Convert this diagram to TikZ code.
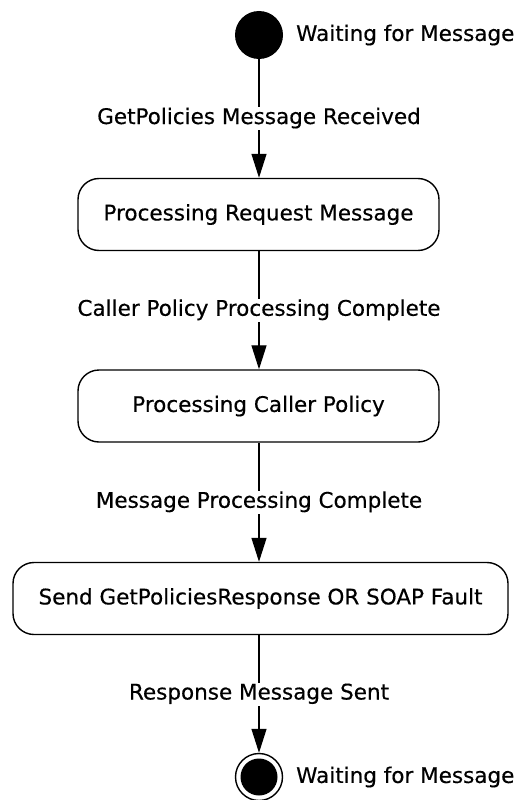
\documentclass[tikz,border=0pt]{standalone}
\usepackage{fontspec}
\setmainfont{DejaVu Sans}[FakeBold=0.4]
\usetikzlibrary{arrows.meta}
\begin{document}
\begin{tikzpicture}[x=1bp,y=-1bp,
  every node/.style={font=\fontsize{21.5bp}{25bp}\selectfont},
  statebox/.style={draw,line width=1.4bp,rounded corners=21bp,minimum height=72bp,inner sep=0pt},
  trans/.style={line width=1.3bp,-{Triangle[width=15bp,length=24bp]}},
  tlabel/.style={fill=white,inner sep=2bp,text height=15bp,text depth=4bp}]
\useasboundingbox (0,0) rectangle (515,800);
\node[circle,fill=black,minimum size=48bp,inner sep=0pt] (start) at (259,35) {};
\node[anchor=west,inner sep=0pt] (startlbl) at (296,35) {Waiting for Message};
\node[statebox,minimum width=361bp] (b1) at (258.5,214.5) {Processing Request Message};
\node[statebox,minimum width=361bp] (b2) at (258.5,406) {Processing Caller Policy};
\node[statebox,minimum width=495bp] (b3) at (260.5,598.5) {Send GetPoliciesResponse OR SOAP Fault};
\node[circle,draw,line width=1.4bp,minimum size=47bp,inner sep=0pt] (final) at (259,777) {};
\fill (final.center) circle (18.5bp);
\node[anchor=west,inner sep=0pt] (endlbl) at (296,777) {Waiting for Message};
\draw[trans] (start) -- node[tlabel] {GetPolicies Message Received} (b1.north -| start);
\draw[trans] (b1.south -| start) -- node[tlabel] {Caller Policy Processing Complete} (b2.north -| start);
\draw[trans] (b2.south -| start) -- node[tlabel] {Message Processing Complete} (b3.north -| start);
\draw[trans] (b3.south -| start) -- node[tlabel] {Response Message Sent} (final);
\end{tikzpicture}
\end{document}
